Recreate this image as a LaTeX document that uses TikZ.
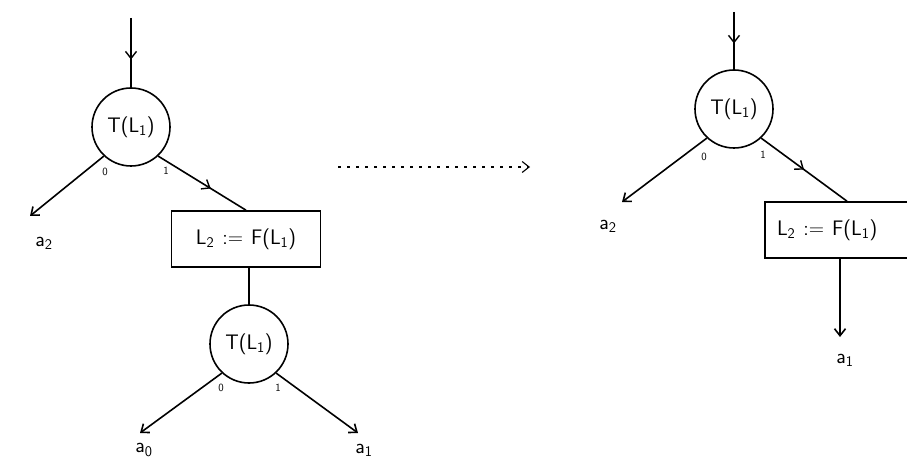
\documentclass[tikz,border=0pt]{standalone}
\usepackage{fontspec}
\usepackage{tikz}
\usetikzlibrary{calc,arrows.meta,decorations.markings}

\newcommand{\low}[1]{\textsubscript{#1}}

\tikzset{
  >={Straight Barb[length=7pt,width=11pt]},
  test/.style={draw, circle, line width=1.6pt, minimum size=78pt, inner sep=0pt,
    font=\sffamily\fontsize{21}{25}\selectfont},
  assign/.style={draw, rectangle, line width=1.6pt, minimum width=149pt, minimum height=56pt,
    inner sep=0pt, font=\sffamily\fontsize{21}{25}\selectfont},
  leaf/.style={font=\sffamily\fontsize{21}{25}\selectfont},
  branch/.style={font=\sffamily\fontsize{11}{13}\selectfont},
  wire/.style={line width=1.6pt},
  midarrow/.style={postaction={decorate}, decoration={markings,
    mark=at position #1 with {\arrow[line width=1.4pt]{>}}}}
}

\begin{document}
\begin{tikzpicture}[x=1pt, y=-1pt]
  \useasboundingbox (0,0) rectangle (907,462);

  % left: before
  \coordinate (in1) at (131,18);
  \node[test] (t1) at (131,127) {T(L\low{1})};
  \node[assign] (s1) at (246,239) {L\low{2}\hspace{8pt}:=\hspace{8pt}F(L\low{1})};
  \node[test] (t2) at (249,344) {T(L\low{1})};
  \coordinate (e2) at (30,216);
  \coordinate (e0) at (140,433);
  \coordinate (e1) at (358,433);
  \node[leaf] (a2) at (44,243) {a\low{2}};
  \node[leaf] (a0) at (144,450) {a\low{0}};
  \node[leaf] (a1) at (364,450) {a\low{1}};

  \draw[wire, midarrow=0.6] (in1) -- (t1.north);
  \draw[wire, ->] (t1.-133) -- (e2);
  \draw[wire, midarrow=0.6] (t1.-47) -- (s1.north);
  \draw[wire] (t2.north |- s1.south) -- (t2.north);
  \draw[wire, ->] (t2.-133) -- (e0);
  \draw[wire, ->] (t2.-47) -- (e1);
  \node[branch] (b10) at (105,172) {0};
  \node[branch] (b11) at (166,171) {1};
  \node[branch] (b20) at (221,388) {0};
  \node[branch] (b21) at (278,388) {1};

  % the step between the two
  \coordinate (go1) at (338,167);
  \coordinate (go2) at (530,167);
  \draw[line width=1.1pt, dash pattern=on 3pt off 6pt, ->] (go1) -- (go2);

  % right: after (box runs off the page)
  \coordinate (in2) at (734,12);
  \node[test] (t3) at (734,109) {T(L\low{1})};
  \node[assign, text width=150pt, inner xsep=12pt, align=left] (s2) at (852,230)
    {L\low{2}\hspace{8pt}:=\hspace{8pt}F(L\low{1})};
  \coordinate (e4) at (840,337);
  \coordinate (e3) at (622,202);
  \node[leaf] (a3) at (608,226) {a\low{2}};
  \node[leaf] (a4) at (845,360) {a\low{1}};

  \draw[wire, midarrow=0.55] (in2) -- (t3.north);
  \draw[wire, ->] (t3.-133) -- (e3);
  \draw[wire, midarrow=0.5] (t3.-47) -- (s2.north -| 847,0);
  \draw[wire, ->] (s2.south -| e4) -- (e4);
  \node[branch] (b30) at (704,157) {0};
  \node[branch] (b31) at (763,155) {1};
\end{tikzpicture}
\end{document}
